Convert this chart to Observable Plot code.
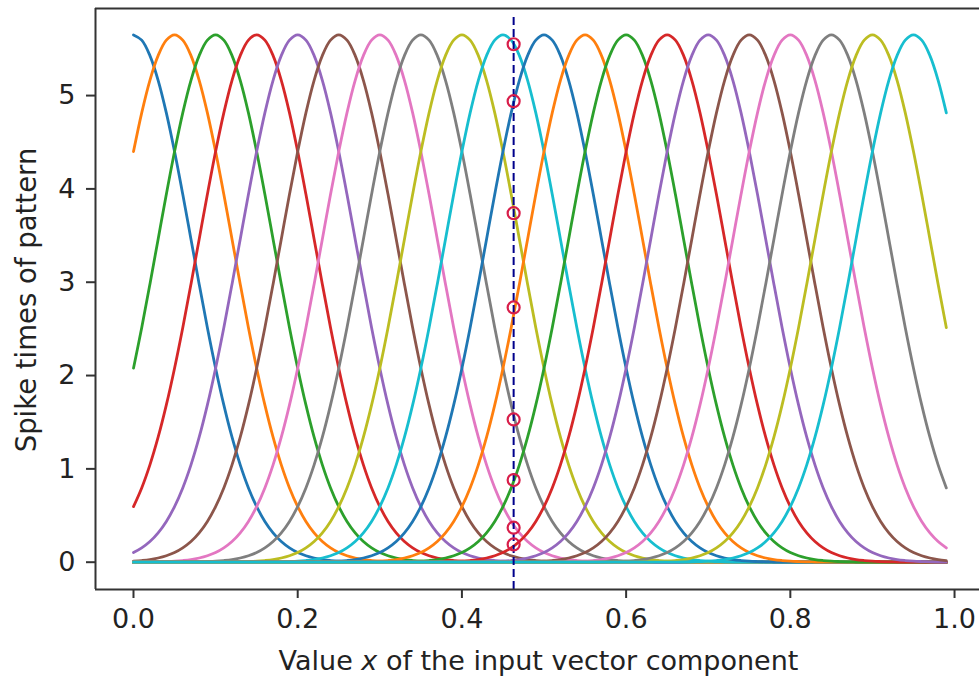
<!DOCTYPE html>
<html><head><meta charset="utf-8">
<script src="https://cdn.jsdelivr.net/npm/d3@7"></script>
<script src="https://cdn.jsdelivr.net/npm/@observablehq/plot@0.6"></script>
<style>html,body{margin:0;padding:0;background:#fff;overflow:hidden}</style>
</head><body><div id="chart"></div>
<script>
// centres of the 20 tuning curves
const centers = [0.00,0.05,0.10,0.15,0.20,0.25,0.30,0.35,0.40,0.45,0.50,0.55,0.60,0.65,0.70,0.75,0.80,0.85,0.90,0.95];
// curve colours (matplotlib cycle, repeated)
const colors = ["#1f77b4","#ff7f0e","#2ca02c","#d62728","#9467bd","#8c564b","#e377c2","#7f7f7f","#bcbd22","#17becf",
                "#1f77b4","#ff7f0e","#2ca02c","#d62728","#9467bd","#8c564b","#e377c2","#7f7f7f","#bcbd22","#17becf"];
// sampling positions of x (0 .. 0.99)
const xs = d3.range(0, 100).map(i => i / 100);
// value of one curve, by distance (in steps of 0.01) from its centre
const profile = [5.65,5.594,5.428,5.164,4.815,4.40,3.942,3.461,2.979,2.513,2.079,1.685,1.339,1.043,0.796,0.596,
                 0.437,0.314,0.221,0.153,0.103,0.069,0.045,0.028,0.018,0.011,0.007,0.004,0.002,0.001,0.001];
// input value and the spike times it produces
const spikeX = 0.463;
const spikeTimes = [5.55,4.94,3.74,2.73,1.53,0.88,0.37,0.19];
const xTicks = [0.0,0.2,0.4,0.6,0.8,1.0];
const yTicks = [0,1,2,3,4,5];

const curves = [];
centers.forEach((c, k) => {
  xs.forEach(x => {
    const s = Math.round(Math.abs(x - c) * 100);
    curves.push({k, x, y: s < profile.length ? profile[s] : 0});
  });
});

const xDom = [-0.04628, 1.0304];
const yDom = [-0.2925, 5.933];
const ink = "#333";
const fs = 27;

const chart = Plot.plot({
  width: 979, height: 676,
  marginLeft: 95, marginRight: 0, marginTop: 8, marginBottom: 87,
  style: {fontFamily: "DejaVu Sans", fontSize: fs + "px", color: "#222", background: "#fff", overflow: "visible"},
  x: {domain: xDom},
  y: {domain: yDom},
  color: {type: "ordinal", domain: d3.range(20), range: colors},
  marks: [
    Plot.line(curves, {x: "x", y: "y", z: "k", stroke: "k", strokeWidth: 2.8, curve: "catmull-rom"}),
    Plot.ruleX([spikeX], {y1: yDom[0], y2: 5.836, stroke: "#00008b", strokeWidth: 2, strokeDasharray: "8,4"}),
    Plot.dot(spikeTimes, {x: () => spikeX, y: d => d, r: 6, stroke: "#d81e4a", strokeWidth: 2.2, fill: "none"}),
    Plot.axisX({ticks: xTicks, tickFormat: d3.format(".1f"), tickSize: 9, tickPadding: 10, stroke: ink, strokeWidth: 2, label: null, fontSize: fs}),
    Plot.axisY({ticks: yTicks, tickFormat: d3.format("d"), tickSize: 9, tickPadding: 11, stroke: ink, strokeWidth: 2, label: null, fontSize: fs}),
    Plot.ruleX([xDom[0]], {stroke: ink, strokeWidth: 2}),
    Plot.ruleY([yDom[0], yDom[1]], {stroke: ink, strokeWidth: 2})
  ]
});
document.getElementById("chart").appendChild(chart);

const svg = d3.select(chart);
const xl = svg.append("text").attr("x", 538.5).attr("y", 670).attr("text-anchor", "middle")
  .attr("font-family", "DejaVu Sans").attr("font-size", fs).attr("fill", "#222");
xl.append("tspan").text("Value ");
xl.append("tspan").attr("font-style", "italic").text("x");
xl.append("tspan").text(" of the input vector component");
svg.append("text").attr("transform", "translate(36,300) rotate(-90)").attr("text-anchor", "middle")
  .attr("font-family", "DejaVu Sans").attr("font-size", fs + 0.5).attr("fill", "#222")
  .text("Spike times of pattern");
</script>
</body></html>
